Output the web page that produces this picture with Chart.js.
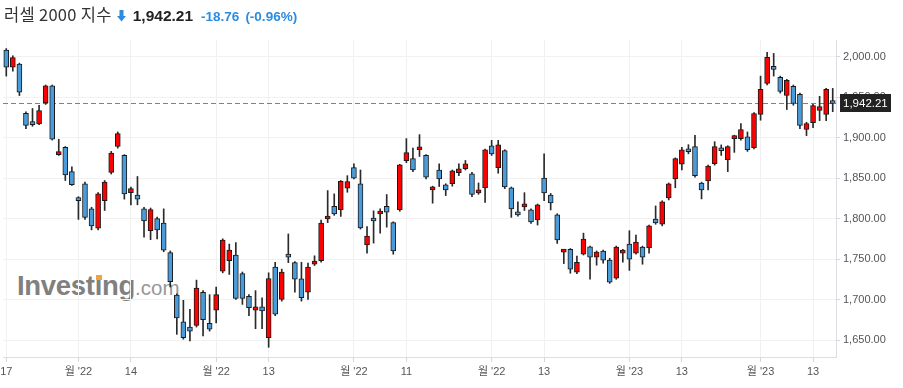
<!DOCTYPE html>
<html>
<head>
<meta charset="utf-8">
<script src="https://cdn.jsdelivr.net/npm/chart.js@4.4.1/dist/chart.umd.min.js"></script>
<style>
  html, body { margin:0; padding:0; background:#fff; }
  #wrap { position:relative; width:903px; height:388px; overflow:hidden; font-family: Arial, "Liberation Sans", "Noto Sans CJK KR", sans-serif; }
  #title { position:absolute; left:4px; top:2px; white-space:nowrap; display:flex; align-items:baseline; }
  #title .name { font-family: "Noto Sans CJK KR", Arial, sans-serif; font-size:16.5px; color:#333; letter-spacing:0.3px; }
  #title .price { font-size:15.5px; font-weight:bold; color:#222; margin-left:7px; }
  #title .chg { font-size:13.5px; font-weight:bold; color:#2b8ce0; margin-left:8px; }
  #title .pct { font-size:13.5px; font-weight:bold; color:#2b8ce0; margin-left:6px; }
  #title svg { margin-left:5px; position:relative; top:1px; }
  #wm { position:absolute; left:17px; top:272px; white-space:nowrap; color:#808080; }
  #wm .a { font-size:27.5px; font-weight:bold; line-height:27.5px; letter-spacing:-0.3px; }
  #wm .i { position:relative; }
  #wm .i::after { content:''; position:absolute; left:1px; top:4.5px; width:6px; height:5px; background:#f0a43a; }
  #wm .b { font-size:20.5px; color:#979797; }
  canvas { position:absolute; left:0; top:0; }
</style>
</head>
<body>
<div id="wrap">
  <div id="wm"><span class="a">Invest<span class="i">i</span>ng</span><span class="b">.com</span></div>
  <canvas id="c" width="903" height="388"></canvas>
  <div id="title">
    <span class="name">러셀 2000 지수</span>
    <svg width="9" height="12" viewBox="0 0 9 12"><path d="M2.5 0 H6.5 V6 H9 L4.5 11.5 L0 6 H2.5 Z" fill="#2b8ce0"/></svg>
    <span class="price">1,942.21</span>
    <span class="chg">-18.76</span>
    <span class="pct">(-0.96%)</span>
  </div>
</div>
<script>
const dates = [
 '22-08-17','22-08-18','22-08-19','22-08-22','22-08-23','22-08-24','22-08-25','22-08-26','22-08-29','22-08-30','22-08-31',
 '22-09-01','22-09-02','22-09-06','22-09-07','22-09-08','22-09-09','22-09-12','22-09-13','22-09-14','22-09-15','22-09-16','22-09-19','22-09-20','22-09-21','22-09-22','22-09-23','22-09-26','22-09-27','22-09-28','22-09-29','22-09-30',
 '22-10-03','22-10-04','22-10-05','22-10-06','22-10-07','22-10-10','22-10-11','22-10-12','22-10-13','22-10-14','22-10-17','22-10-18','22-10-19','22-10-20','22-10-21','22-10-24','22-10-25','22-10-26','22-10-27','22-10-28','22-10-31',
 '22-11-01','22-11-02','22-11-03','22-11-04','22-11-07','22-11-08','22-11-09','22-11-10','22-11-11','22-11-14','22-11-15','22-11-16','22-11-17','22-11-18','22-11-21','22-11-22','22-11-23','22-11-25','22-11-28','22-11-29','22-11-30',
 '22-12-01','22-12-02','22-12-05','22-12-06','22-12-07','22-12-08','22-12-09','22-12-12','22-12-13','22-12-14','22-12-15','22-12-16','22-12-19','22-12-20','22-12-21','22-12-22','22-12-23','22-12-27','22-12-28','22-12-29','22-12-30',
 '23-01-03','23-01-04','23-01-05','23-01-06','23-01-09','23-01-10','23-01-11','23-01-12','23-01-13','23-01-17','23-01-18','23-01-19','23-01-20','23-01-23','23-01-24','23-01-25','23-01-26','23-01-27','23-01-30','23-01-31',
 '23-02-01','23-02-02','23-02-03','23-02-06','23-02-07','23-02-08','23-02-09','23-02-10','23-02-13','23-02-14','23-02-15','23-02-16'
];
// one row per month: Aug(11) Sep(21) Oct(21) Nov(21) Dec(21) Jan(20) Feb(12)
const openP = [
 2008,1987,1991,1930,1919,1917,1943,1964,1879,1888,1858,
 1826,1843,1812,1788,1822,1857,1889,1878,1832,1829,1812,1785,1800,1794.5,1758,1705.5,1672.5,1666,1668,1709,1670.5,
 1687,1735,1748,1755,1732,1704,1687,1691,1653,1740,1700,1755,1745.5,1725.6,1709,1743.8,1748,1799.5,1815,1811,1837.5,
 1863,1843,1767.6,1800,1805.7,1815,1795,1811,1871.5,1874,1885,1878,1835.5,1860,1841.7,1843,1856.6,1861.5,1855.4,1831.8,1838,
 1890,1863,1884,1838,1807,1814.4,1810.7,1798.3,1850,1829,1804.5,1758.6,1762,1733.7,1756,1765,1752.4,1760,1748.6,1726.4,1757.3,
 1768.5,1757.3,1764.8,1763.6,1799.5,1793,1825.6,1849,1867.3,1885,1888.8,1844,1846.6,1867.7,1886.3,1872.7,1898.8,1898.8,1901,1887.6,
 1928.6,1967,1988,1974.4,1952,1963.3,1953.4,1910,1918.6,1933.5,1928.6,1944.7
];
const highP = [
 2010,2001,1992,1932,1936,1940,1965,1965,1898,1889,1864,
 1827,1845,1814,1832,1847,1883,1907,1879,1839,1852,1814,1813,1802,1812,1760,1707,1699,1688,1724,1711,1706,
 1715.5,1775,1768.5,1770.5,1734,1706,1711,1702,1733,1746,1737.5,1781,1747,1746,1745,1754,1798,1834.6,1830.5,1847,1853,
 1867.6,1860,1790,1809.6,1812,1829.7,1796,1867,1898.8,1887,1903.7,1879,1840,1867.6,1843,1860,1867.6,1871.8,1857,1844,1886,
 1896.6,1896.6,1885,1839,1820.6,1832,1812,1818,1880,1831,1806,1762,1763,1753.6,1782,1766,1760,1761,1751,1766,1762,
 1785,1779.7,1766,1792,1815.6,1822,1844,1875,1888,1891.3,1902.9,1845,1866,1895,1891,1890,1903,1917.4,1907,1931,
 1976,2005.5,2004,1976,1972,1965,1955,1919,1941,1951,1961,1960.8
];
const lowP = [
 1976,1982,1952,1911,1914,1916,1941,1897,1878,1847,1841,
 1799,1799,1786,1786,1810,1855,1887,1824,1817,1817,1777,1774,1775,1759,1715.5,1657,1651,1649,1666,1655,1661,
 1671,1733,1731,1700,1694,1680,1664,1664,1641,1680,1698,1745.5,1709,1698,1700,1742,1746,1795,1804,1802.7,1832.5,
 1849,1787,1757.4,1769.7,1782,1789.4,1756,1809,1869,1858,1876.7,1849,1819,1839.6,1828.4,1840,1853,1860,1827,1830,1820,
 1878,1856,1837,1801.5,1803,1810,1794,1792,1822,1810.7,1769.3,1744.4,1732.5,1732,1755,1725,1742.4,1745,1720,1725,1746,
 1736,1756,1743.6,1757.4,1793,1791,1823,1838,1860,1880,1851,1824.3,1835.5,1866,1878,1858,1881.8,1897,1883,1886,
 1921.5,1965,1976,1955,1934.7,1940,1911,1902.5,1912.4,1921,1921,1932
];
const closeP = [
 1987,1999,1956,1915,1916,1933.5,1964,1898,1881,1854,1842,
 1822,1801.5,1791,1830.5,1845,1881,1905,1830.5,1837,1824,1797,1811,1786,1761,1722,1677.4,1653,1661,1714,1675,1663.4,
 1706,1773.5,1761,1701.5,1701.5,1690,1691,1686,1726,1682,1734,1752.4,1725,1702.4,1740,1746.7,1794.5,1802.7,1805.7,1846,1845.7,
 1850,1788.4,1778.4,1797,1808.6,1808,1760,1866.5,1881.4,1860,1887.6,1851,1838,1849,1835.5,1859,1861.5,1867.7,1829.7,1834.3,1885,
 1880,1891,1839,1812,1804.5,1817,1796,1817,1831.6,1819.4,1773.5,1761,1737.5,1746,1774.7,1752.4,1758.6,1748.6,1721.3,1764.8,1759.8,
 1750,1771,1752.4,1791,1794.5,1820.6,1843,1874,1885,1882.6,1853,1835.5,1865,1888.8,1883.8,1888.8,1901.3,1910,1885,1929.8,
 1959.6,1999.3,1984.4,1957,1970.7,1942.2,1915,1917.4,1939.7,1938.5,1959.6,1942.21
];
const tickDates = ['22-08-17','22-09-01','22-09-14','22-10-03','22-10-13','22-11-01','22-11-11','22-12-01','22-12-13','23-01-03','23-01-13','23-02-01','23-02-13'];
const tickTexts = ['17',"월 '22",'14',"월 '22",'13',"월 '22",'11',"월 '22",'13',"월 '23",'13',"월 '23",'13'];
const yTicks = [1650,1700,1750,1800,1850,1900,1950,2000];
const lastPrice = 1942.21;

const UP = '#ff0000', DOWN = '#4a9bd9';
const fmt = v => { const s = v.toFixed(2); const [a,b] = s.split('.'); return a.replace(/\B(?=(\d{3})+(?!\d))/g, ',') + '.' + b; };

const pricePlugin = {
  id: 'pricePlugin',
  beforeDatasetsDraw(chart) {
    const {ctx, chartArea, scales} = chart;
    const y = Math.round(scales.y.getPixelForValue(lastPrice)) + 0.5;
    ctx.save();
    ctx.strokeStyle = '#808080';
    ctx.lineWidth = 1;
    ctx.setLineDash([5, 3]);
    ctx.beginPath();
    ctx.moveTo(chartArea.left, y);
    ctx.lineTo(chartArea.right, y);
    ctx.stroke();
    ctx.restore();
  },
  afterDraw(chart) {
    const {ctx, chartArea, scales} = chart;
    const y = scales.y.getPixelForValue(lastPrice);
    ctx.save();
    ctx.fillStyle = '#222';
    ctx.fillRect(chartArea.right + 4, Math.round(y) - 9, 51, 18);
    ctx.fillStyle = '#fff';
    ctx.font = '11.5px Arial, "Liberation Sans", sans-serif';
    ctx.textBaseline = 'middle';
    ctx.textAlign = 'left';
    ctx.fillText(fmt(lastPrice), chartArea.right + 7, Math.round(y) + 0.5);
    ctx.restore();
  }
};

new Chart(document.getElementById('c'), {
  type: 'bar',
  data: {
    labels: dates,
    datasets: [
      {
        label: 'body',
        data: dates.map((d, i) => [openP[i], closeP[i]]),
        backgroundColor: dates.map((d, i) => closeP[i] >= openP[i] ? UP : DOWN),
        borderColor: '#1a1a1a',
        borderWidth: 1,
        borderSkipped: false,
        barThickness: 5,
        minBarLength: 3,
        grouped: false,
        order: 0
      },
      {
        label: 'wick',
        data: dates.map((d, i) => [lowP[i], highP[i]]),
        backgroundColor: '#2a2a2a',
        borderWidth: 0,
        barThickness: 1,
        grouped: false,
        order: 1
      }
    ]
  },
  options: {
    responsive: false,
    animation: false,
    devicePixelRatio: 1,
    layout: { padding: { top: 40, left: 3, right: 0, bottom: 0 } },
    plugins: { legend: { display: false }, tooltip: { enabled: false } },
    scales: {
      x: {
        type: 'category',
        offset: true,
        grid: { offset: false, color: '#f1f1f1', tickColor: '#d6d6de', tickLength: 5 },
        border: { color: '#dcdce4' },
        ticks: {
          autoSkip: false, maxRotation: 0, minRotation: 0, padding: 3,
          color: '#555', font: { size: 11, family: 'Arial, "Liberation Sans", "Noto Sans CJK KR", sans-serif' },
          callback: (v, i) => tickTexts[i]
        },
        afterBuildTicks: s => { s.ticks = tickDates.map(d => ({ value: dates.indexOf(d) })); },
        afterFit: s => { s.height = 31; s.paddingLeft = 0; s.paddingRight = 0; }
      },
      y: {
        position: 'right',
        min: 1629,
        max: 2020.6,
        grid: { color: '#f1f1f1', tickColor: '#d6d6de', tickLength: 4 },
        border: { color: '#dcdce4' },
        ticks: {
          padding: 3, color: '#555',
          font: { size: 11, family: 'Arial, "Liberation Sans", sans-serif' },
          callback: v => fmt(v)
        },
        afterBuildTicks: s => { s.ticks = yTicks.map(v => ({ value: v })); },
        afterFit: s => { s.width = 67; s.paddingTop = 0; s.paddingBottom = 0; }
      }
    }
  },
  plugins: [pricePlugin]
});
</script>
</body>
</html>
